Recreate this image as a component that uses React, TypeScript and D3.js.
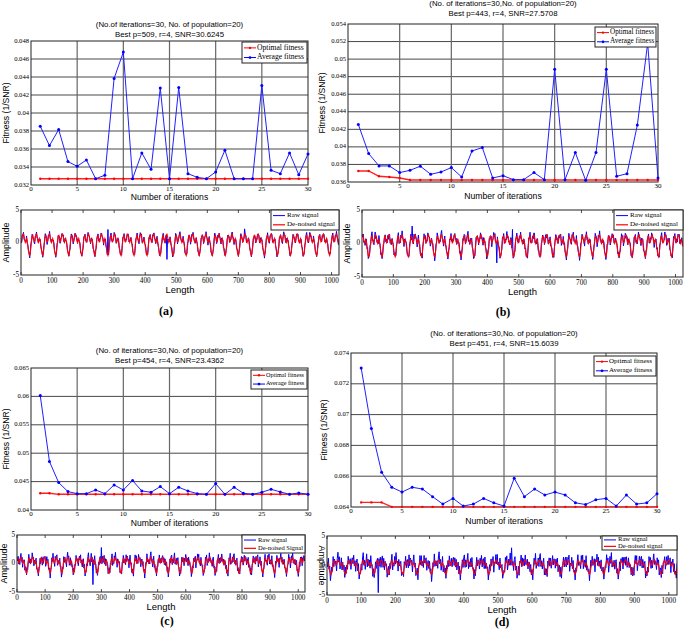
import * as d3 from 'd3';

// fitness curves, iterations 1..30
const ITER = d3.range(1, 31);

const AVG_A = [0.03853, 0.03638, 0.03816, 0.0346, 0.03408, 0.03478, 0.0327, 0.03308, 0.04384, 0.04677,
  0.0327, 0.03556, 0.03374, 0.04277, 0.0327, 0.04284, 0.03326, 0.03285, 0.0327, 0.03345,
  0.03586, 0.0327, 0.0327, 0.0327, 0.04306, 0.03363, 0.03326, 0.03556, 0.03314, 0.03545];
const OPT_A = [0.0327, 0.0327, 0.0327, 0.0327, 0.0327, 0.0327, 0.0327, 0.0327, 0.0327, 0.0327,
  0.0327, 0.0327, 0.0327, 0.0327, 0.0327, 0.0327, 0.0327, 0.0327, 0.0327, 0.0327,
  0.0327, 0.0327, 0.0327, 0.0327, 0.0327, 0.0327, 0.0327, 0.0327, 0.0327, 0.0327];

const AVG_B = [0.04255, 0.03924, 0.03783, 0.03783, 0.03707, 0.03733, 0.0378, 0.03688, 0.03714, 0.03764,
  0.03657, 0.03954, 0.03992, 0.03646, 0.03672, 0.03627, 0.03627, 0.03707, 0.03627, 0.04884,
  0.03627, 0.03935, 0.03619, 0.03935, 0.04884, 0.03665, 0.03695, 0.04248, 0.05181, 0.03646];
const OPT_B = [0.03726, 0.03726, 0.03665, 0.03657, 0.03646, 0.03623, 0.03623, 0.03623, 0.03623, 0.03623,
  0.03623, 0.03623, 0.03623, 0.03623, 0.03623, 0.03623, 0.03623, 0.03623, 0.03623, 0.03623,
  0.03623, 0.03623, 0.03623, 0.03623, 0.03623, 0.03623, 0.03623, 0.03623, 0.03623, 0.03623];

const AVG_C = [0.06018, 0.04853, 0.04482, 0.04324, 0.04288, 0.04288, 0.04353, 0.04288, 0.04441, 0.04353,
  0.04518, 0.04335, 0.04312, 0.04412, 0.04288, 0.044, 0.04335, 0.04288, 0.04276, 0.04465,
  0.04276, 0.044, 0.04294, 0.04276, 0.04312, 0.04365, 0.04318, 0.04276, 0.043, 0.04276];
const OPT_C = [0.04294, 0.04294, 0.04276, 0.04276, 0.04276, 0.04276, 0.04276, 0.04276, 0.04276, 0.04276,
  0.04276, 0.04276, 0.04276, 0.04276, 0.04276, 0.04276, 0.04276, 0.04276, 0.04276, 0.04276,
  0.04276, 0.04276, 0.04276, 0.04276, 0.04276, 0.04276, 0.04276, 0.04276, 0.04276, 0.04276];

const AVG_D = [0.07302, 0.0691, 0.06626, 0.06528, 0.06497, 0.06528, 0.06517, 0.06467, 0.06419, 0.06456,
  0.06406, 0.06419, 0.06456, 0.06427, 0.06406, 0.06587, 0.06467, 0.06517, 0.06478, 0.06497,
  0.06478, 0.06427, 0.06416, 0.06447, 0.06456, 0.06406, 0.06478, 0.06419, 0.06427, 0.06486];
const OPT_D = [0.0643, 0.0643, 0.0643, 0.06401, 0.06401, 0.06401, 0.06401, 0.06401, 0.06401, 0.06401,
  0.06401, 0.06401, 0.06401, 0.06401, 0.06401, 0.06401, 0.06401, 0.06401, 0.06401, 0.06401,
  0.06401, 0.06401, 0.06401, 0.06401, 0.06401, 0.06401, 0.06401, 0.06401, 0.06401, 0.06401];

const TICKS_A = [0.032, 0.034, 0.036, 0.038, 0.04, 0.042, 0.044, 0.046, 0.048];
const TICKS_B = [0.036, 0.038, 0.04, 0.042, 0.044, 0.046, 0.048, 0.05, 0.052, 0.054];
const TICKS_C = [0.04, 0.045, 0.05, 0.055, 0.06, 0.065];
const TICKS_D = [0.064, 0.066, 0.068, 0.07, 0.072, 0.074];
const ITER_TICKS = [0, 5, 10, 15, 20, 25, 30];

// one period (42 samples, every 2nd sample) of the de-noised signal
const CYCLE = [-2.0, -1.6, -0.6, 0.4, 1.0, 1.1, 0.6, 0.1, 0.2, 0.8, 1.2,
  1.3, 0.9, 0.3, 0.0, 0.3, 0.6, 0.2, -0.5, -1.2, -1.8];
// raw-signal deviation pattern around the de-noised curve
const JITTER = [0.3, -0.5, 0.8, -0.2, 0.6, -0.9, 0.1, 0.7, -0.4, 0.9, -0.7, 0.2, -0.1, 0.5, -0.8, 0.4,
  1.0, -0.3, 0.6, -0.6, 0.0, 0.8, -0.9, 0.3, -0.2, 0.7, -0.5, 0.9, -0.1, 0.4, -0.7, 0.6, -0.4, 0.2,
  0.8, -0.6, 0.1];
const LEN_TICKS = [0, 100, 200, 300, 400, 500, 600, 700, 800, 900, 1000];
const AMP_TICKS = [-5, 0, 5];
const SPIKES_A = [[280, 2.0], [470, -2.6], [720, 2.1]];
const SPIKES_B = [[160, 2.6], [430, -2.9], [480, 2.1]];
const SPIKES_C = [[270, -3.7], [300, 2.8]];
const SPIKES_D = [[150, -4.6], [540, 3.0]];

const SANS = 'Liberation Sans, Arial, sans-serif';
const SERIF = 'Liberation Serif, Times New Roman, serif';
const fmt = (v: number) => String(+v.toFixed(3));

type Box = [number, number, number, number];

function Fitness({ box, yTicks, avg, opt, title, leg, legFont, ylabX, titleDy, xlabDy }:
  { box: Box; yTicks: number[]; avg: number[]; opt: number[]; title: string[]; leg: Box; legFont: number; ylabX: number; titleDy: number; xlabDy: number }) {
  const [l, t, r, b] = box;
  const x = d3.scaleLinear().domain([0, 30]).range([l, r]);
  const y = d3.scaleLinear().domain([yTicks[0], yTicks[yTicks.length - 1]]).range([b, t]);
  const line = d3.line<number>().x((_, i) => x(ITER[i])).y(d => y(d));
  const cx = (l + r) / 2;
  const [lx, ly, lw, lh] = leg;
  return (
    <g>
      <text x={cx} y={t - titleDy} textAnchor="middle" fontFamily={SANS} fontSize={7.8}>{title[0]}</text>
      <text x={cx} y={t - titleDy + 9.5} textAnchor="middle" fontFamily={SANS} fontSize={7.8}>{title[1]}</text>
      {yTicks.slice(1, -1).map(v => (
        <line key={v} x1={l} x2={r} y1={y(v)} y2={y(v)} stroke="#333" strokeWidth={0.9} />
      ))}
      {ITER_TICKS.slice(1, -1).map(v => (
        <line key={v} x1={x(v)} x2={x(v)} y1={t} y2={b} stroke="#666" strokeWidth={1.2} />
      ))}
      <rect x={l} y={t} width={r - l} height={b - t} fill="none" stroke="#222" strokeWidth={1} />
      {yTicks.map(v => (
        <text key={v} x={l - 2} y={y(v)} textAnchor="end" dominantBaseline="middle" fontFamily={SERIF} fontSize={6.6}>{fmt(v)}</text>
      ))}
      {ITER_TICKS.map(v => (
        <text key={v} x={x(v)} y={b + 4.5} textAnchor="middle" dominantBaseline="middle" fontFamily={SERIF} fontSize={7}>{v}</text>
      ))}
      <text x={cx} y={b + xlabDy} textAnchor="middle" dominantBaseline="middle" fontFamily={SANS} fontSize={8.6}>Number of iterations</text>
      <text transform={`translate(${ylabX},${(t + b) / 2}) rotate(-90)`} textAnchor="middle" dominantBaseline="middle" fontFamily={SANS} fontSize={8.6}>Fitness (1/SNR)</text>
      <path d={line(opt) ?? ''} fill="none" stroke="#ff2020" strokeWidth={1.4} />
      {opt.map((d, i) => <circle key={i} cx={x(ITER[i])} cy={y(d)} r={1.2} fill="#ff0000" />)}
      <path d={line(avg) ?? ''} fill="none" stroke="#2020ff" strokeWidth={1} />
      {avg.map((d, i) => <circle key={i} cx={x(ITER[i])} cy={y(d)} r={1.5} fill="#0000ff" />)}
      <rect x={lx} y={ly} width={lw} height={lh} fill="#fff" stroke="#222" strokeWidth={1} />
      <line x1={lx + 2} x2={lx + 14} y1={ly + lh * 0.28} y2={ly + lh * 0.28} stroke="#ff0000" strokeWidth={1} />
      <circle cx={lx + 8} cy={ly + lh * 0.28} r={1.2} fill="#ff0000" />
      <text x={lx + 15} y={ly + lh * 0.28} dominantBaseline="middle" fontFamily={SERIF} fontSize={legFont}>Optimal fitness</text>
      <line x1={lx + 2} x2={lx + 14} y1={ly + lh * 0.74} y2={ly + lh * 0.74} stroke="#0000ff" strokeWidth={1} />
      <circle cx={lx + 8} cy={ly + lh * 0.74} r={1.4} fill="#0000ff" />
      <text x={lx + 15} y={ly + lh * 0.74} dominantBaseline="middle" fontFamily={SERIF} fontSize={legFont}>Average fitness</text>
    </g>
  );
}

function Signal({ box, phase, amp, noise, spikes, leg, legFont, deLabel, ampX, flip }:
  { box: Box; phase: number; amp: number; noise: number; spikes: number[][]; leg: Box; legFont: number; deLabel: string; ampX: number; flip?: boolean }) {
  const [l, t, r, b] = box;
  const x = d3.scaleLinear().domain([0, 1024]).range([l, r]);
  const y = d3.scaleLinear().domain([-5, 5]).range([b, t]);
  const idx = d3.range(0, 1025, 2);
  const den = idx.map(s => amp * CYCLE[Math.floor(((s + phase) % 42) / 2)]);
  const raw = idx.map((s, k) => {
    const sp = spikes.find(p => Math.abs(p[0] - s) < 1);
    return sp ? sp[1] : den[k] + noise * JITTER[k % JITTER.length];
  });
  const line = d3.line<number>().x((_, i) => x(idx[i])).y(d => y(d));
  const [lx, ly, lw, lh] = leg;
  return (
    <g>
      <defs>
        <clipPath id={`c${l}${t}`}><rect x={l} y={t} width={r - l} height={b - t} /></clipPath>
      </defs>
      <g clipPath={`url(#c${l}${t})`}>
        <path d={line(raw) ?? ''} fill="none" stroke="#0000ff" strokeWidth={1} />
        <path d={line(den) ?? ''} fill="none" stroke="#ff0000" strokeWidth={1.1} />
      </g>
      <rect x={l} y={t} width={r - l} height={b - t} fill="none" stroke="#222" strokeWidth={1} />
      {LEN_TICKS.map(v => (
        <g key={v}>
          <line x1={x(v)} x2={x(v)} y1={b} y2={b - 3} stroke="#222" strokeWidth={0.8} />
          <line x1={x(v)} x2={x(v)} y1={t} y2={t + 3} stroke="#222" strokeWidth={0.8} />
          <text x={x(v)} y={b + 6} textAnchor="middle" dominantBaseline="middle" fontFamily={SERIF} fontSize={7.2}>{v}</text>
        </g>
      ))}
      {AMP_TICKS.map(v => (
        <text key={v} x={l - 2} y={y(v)} textAnchor="end" dominantBaseline="middle" fontFamily={SERIF} fontSize={7.2}>{v}</text>
      ))}
      <text x={(l + r) / 2} y={b + 15} textAnchor="middle" dominantBaseline="middle" fontFamily={SANS} fontSize={9.5}>Length</text>
      <text transform={`translate(${ampX},${(t + b) / 2}) rotate(${flip ? 90 : -90})`} textAnchor="middle" dominantBaseline="middle" fontFamily={SANS} fontSize={9}>Amplitude</text>
      <rect x={lx} y={ly} width={lw} height={lh} fill="#fff" stroke="#222" strokeWidth={1} />
      <line x1={lx + 2} x2={lx + 14} y1={ly + lh * 0.28} y2={ly + lh * 0.28} stroke="#0000ff" strokeWidth={1} />
      <text x={lx + 16} y={ly + lh * 0.28} dominantBaseline="middle" fontFamily={SERIF} fontSize={legFont}>Raw signal</text>
      <line x1={lx + 2} x2={lx + 14} y1={ly + lh * 0.74} y2={ly + lh * 0.74} stroke="#ff0000" strokeWidth={1.2} />
      <text x={lx + 16} y={ly + lh * 0.74} dominantBaseline="middle" fontFamily={SERIF} fontSize={legFont}>{deLabel}</text>
    </g>
  );
}

export default function App() {
  return (
    <div style={{ position: 'fixed', left: 0, top: 0 }}>
      <svg width={685} height={630} style={{ display: 'block', background: '#fff' }}>
        <Fitness box={[31, 41, 308, 185]} yTicks={TICKS_A} avg={AVG_A} opt={OPT_A} leg={[242, 42, 65, 21]} legFont={7.6}
          title={['(No.of iterations=30, No. of population=20)', 'Best p=509, r=4, SNR=30.6245']} ylabX={7} titleDy={14} xlabDy={13} />
        <Fitness box={[348, 24, 658, 182]} yTicks={TICKS_B} avg={AVG_B} opt={OPT_B} leg={[595, 27, 61, 20]} legFont={7.2}
          title={['(No. of iterations=30,No. of population=20)', 'Best p=443, r=4, SNR=27.5708']} ylabX={323} titleDy={18} xlabDy={15} />
        <Fitness box={[31, 368, 308, 510]} yTicks={TICKS_C} avg={AVG_C} opt={OPT_C} leg={[251, 370, 56, 19]} legFont={6.2}
          title={['(No. of iterations=30,No. of population=20)', 'Best p=454, r=4, SNR=23.4362']} ylabX={7} titleDy={15} xlabDy={13.5} />
        <Fitness box={[351, 353, 657, 507]} yTicks={TICKS_D} avg={AVG_D} opt={OPT_D} leg={[594, 356, 62, 20]} legFont={7}
          title={['(No. of iterations=30,No. of population=20)', 'Best p=451, r=4, SNR=15.6039']} ylabX={325} titleDy={17} xlabDy={15} />

        <Signal box={[21, 210, 339, 275]} phase={14} amp={1} noise={0.45} spikes={SPIKES_A} leg={[271, 210, 68, 20]} legFont={7.1}
          deLabel="De-noised signal" ampX={7} />
        <Signal box={[362, 210, 683, 277]} phase={20} amp={1} noise={0.65} spikes={SPIKES_B} leg={[614, 210, 69, 20]} legFont={7.1}
          deLabel="De-noised signal" ampX={348} />
        <Signal box={[17, 535, 305, 592]} phase={8} amp={0.85} noise={0.95} spikes={SPIKES_C} leg={[242, 535, 63, 18]} legFont={6.5}
          deLabel="De-noised Signal" ampX={5} />
        <Signal box={[327, 536, 677, 595]} phase={30} amp={0.75} noise={1.35} spikes={SPIKES_D} leg={[602, 536, 75, 14]} legFont={6.6}
          deLabel="De-noised signal" ampX={321} flip />

        <text x={166} y={312} textAnchor="middle" dominantBaseline="middle" fontFamily={SERIF} fontWeight="bold" fontSize={12}>(a)</text>
        <text x={503} y={313} textAnchor="middle" dominantBaseline="middle" fontFamily={SERIF} fontWeight="bold" fontSize={12}>(b)</text>
        <text x={167} y={622} textAnchor="middle" dominantBaseline="middle" fontFamily={SERIF} fontWeight="bold" fontSize={12}>(c)</text>
        <text x={502} y={623} textAnchor="middle" dominantBaseline="middle" fontFamily={SERIF} fontWeight="bold" fontSize={12}>(d)</text>
      </svg>
    </div>
  );
}
